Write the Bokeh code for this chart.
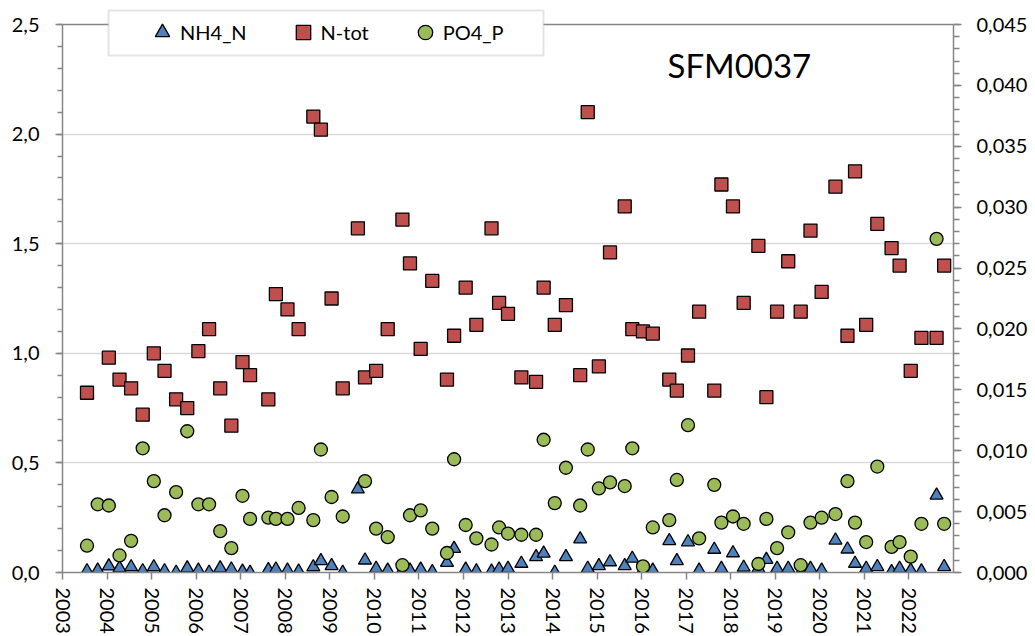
from bokeh.plotting import figure
from bokeh.models import (Range1d, LinearAxis, FixedTicker, CustomJSTickFormatter,
                          Legend, LegendItem, BoxAnnotation, Label, Span)
from bokeh.embed import file_html
from bokeh.resources import INLINE

nan = float("nan")

# Sampling dates (decimal years)
dates = [2003.55, 2003.79, 2004.04, 2004.28, 2004.54, 2004.80, 2005.05, 2005.29,
         2005.55, 2005.80, 2006.05, 2006.29, 2006.54, 2006.79, 2007.04, 2007.21,
         2007.62, 2007.79, 2008.05, 2008.30, 2008.63, 2008.80, 2009.04, 2009.29,
         2009.63, 2009.79, 2010.04, 2010.30, 2010.63, 2010.80, 2011.04, 2011.30,
         2011.63, 2011.79, 2012.05, 2012.29, 2012.63, 2012.80, 2013.00, 2013.30,
         2013.63, 2013.80, 2014.05, 2014.30, 2014.62, 2014.79, 2015.04, 2015.29,
         2015.62, 2015.79, 2016.03, 2016.25, 2016.62, 2016.79, 2017.04, 2017.29,
         2017.63, 2017.79, 2018.05, 2018.29, 2018.62, 2018.80, 2019.04, 2019.29,
         2019.57, 2019.79, 2020.04, 2020.35, 2020.62, 2020.79, 2021.04, 2021.29,
         2021.61, 2021.79, 2022.04, 2022.28, 2022.62, 2022.79]

# NH4_N (left axis)
nh4_n = [0.007, 0.010, 0.029, 0.020, 0.025, 0.007, 0.025, 0.007,
         0.000, 0.020, 0.010, 0.000, 0.020, 0.015, 0.005, 0.000,
         0.012, 0.015, 0.010, 0.005, 0.025, 0.053, 0.030, 0.000,
         0.380, 0.056, 0.018, 0.010, 0.010, 0.010, 0.014, 0.003,
         0.045, 0.109, 0.014, 0.006, 0.005, 0.015, 0.018, 0.041,
         0.071, 0.087, 0.000, 0.071, 0.152, 0.018, 0.030, 0.048,
         0.030, 0.064, 0.010, 0.010, 0.144, 0.053, 0.139, 0.010,
         0.105, 0.018, 0.089, 0.023, 0.018, 0.059, 0.018, 0.018,
         0.000, 0.018, 0.010, 0.147, 0.106, 0.041, 0.018, 0.026,
         0.003, 0.018, 0.010, 0.006, 0.352, 0.026]

# N-tot (left axis)
n_tot = [0.82, nan, 0.98, 0.88, 0.84, 0.72, 1.00, 0.92,
         0.79, 0.75, 1.01, 1.11, 0.84, 0.67, 0.96, 0.90,
         0.79, 1.27, 1.20, 1.11, 2.08, 2.02, 1.25, 0.84,
         1.57, 0.89, 0.92, 1.11, 1.61, 1.41, 1.02, 1.33,
         0.88, 1.08, 1.30, 1.13, 1.57, 1.23, 1.18, 0.89,
         0.87, 1.30, 1.13, 1.22, 0.90, 2.10, 0.94, 1.46,
         1.67, 1.11, 1.10, 1.09, 0.88, 0.83, 0.99, 1.19,
         0.83, 1.77, 1.67, 1.23, 1.49, 0.80, 1.19, 1.42,
         1.19, 1.56, 1.28, 1.76, 1.08, 1.83, 1.13, 1.59,
         1.48, 1.40, 0.92, 1.07, 1.07, 1.40]

# PO4_P (right axis)
po4_p = [0.0022, 0.0056, 0.0055, 0.0014, 0.0026, 0.0102, 0.0075, 0.0047,
         0.0066, 0.0116, 0.0056, 0.0056, 0.0034, 0.0020, 0.0063, 0.0044,
         0.0045, 0.0044, 0.0044, 0.0053, 0.0043, 0.0101, 0.0062, 0.0046,
         nan, 0.0075, 0.0036, 0.0029, 0.0006, 0.0047, 0.0051, 0.0036,
         0.0016, 0.0093, 0.0039, 0.0028, 0.0023, 0.0037, 0.0032, 0.0031,
         0.0031, 0.0109, 0.0057, 0.0086, 0.0055, 0.0101, 0.0069, 0.0074,
         0.0071, 0.0102, 0.0005, 0.0037, 0.0043, 0.0076, 0.0121, 0.0028,
         0.0072, 0.0041, 0.0046, 0.0040, 0.0007, 0.0044, 0.0020, 0.0033,
         0.0006, 0.0041, 0.0045, 0.0048, 0.0075, 0.0041, 0.0025, 0.0087,
         0.0021, 0.0025, 0.0013, 0.0040, 0.0274, 0.0040]

year_ticks = list(range(2003, 2023))
left_ticks = [0.0, 0.5, 1.0, 1.5, 2.0, 2.5]
grid_levels = [0.5, 1.0, 1.5, 2.0]
right_ticks = [0.0, 0.005, 0.010, 0.015, 0.020, 0.025, 0.030, 0.035, 0.040, 0.045]
LEFT_MAX = 2.5
RIGHT_MAX = 0.045

FONT = "Lato"
AXIS_GREY = "#868686"
GRID_GREY = "#d9d9d9"

# a little head room above the axis maxima leaves space for the legend box;
# the scale is 548 px per full axis span
PX = 548.0
above = 16.0
y_left = Range1d(0, LEFT_MAX * (1 + above / PX))
y_right = Range1d(0, RIGHT_MAX * (1 + above / PX))

p = figure(width=1035, height=636, output_backend="svg", toolbar_location=None,
           x_range=Range1d(2003, 2023), y_range=y_left,
           min_border_left=62, min_border_right=82, min_border_top=8,
           min_border_bottom=64)
p.extra_y_ranges = {"po4": y_right}
p.background_fill_color = "white"
p.border_fill_color = "white"
p.outline_line_color = None

p.xgrid.visible = False
p.ygrid.ticker = FixedTicker(ticks=grid_levels)
p.ygrid.grid_line_color = GRID_GREY
p.ygrid.grid_line_width = 1.5

def style_axis(ax):
    ax.axis_line_color = AXIS_GREY
    ax.axis_line_width = 1.5
    ax.major_tick_line_color = AXIS_GREY
    ax.minor_tick_line_color = AXIS_GREY
    ax.major_tick_line_width = 1.5
    ax.minor_tick_line_width = 1.5
    ax.major_tick_in = 0
    ax.minor_tick_in = 0
    ax.major_tick_out = 7
    ax.minor_tick_out = 5
    ax.major_label_text_font = FONT
    ax.major_label_text_font_size = "20px"
    ax.major_label_text_color = "black"

# bottom axis: years
xa = p.xaxis[0]
xa.ticker = FixedTicker(ticks=year_ticks)
xa.major_label_orientation = "vertical"
style_axis(xa)
xa.major_label_standoff = 8

# left axis
ya = p.yaxis[0]
ya.ticker = FixedTicker(ticks=left_ticks,
                        minor_ticks=[round(i * 0.1, 1) for i in range(26)])
ya.formatter = CustomJSTickFormatter(code="return tick.toFixed(1).replace('.', ',');")
ya.bounds = (0, LEFT_MAX)
style_axis(ya)
ya.major_label_standoff = 16

# right axis for PO4_P
ra = LinearAxis(y_range_name="po4")
ra.ticker = FixedTicker(ticks=right_ticks,
                        minor_ticks=[round(i * 0.001, 3) for i in range(46)])
ra.formatter = CustomJSTickFormatter(code="return tick.toFixed(3).replace('.', ',');")
ra.bounds = (0, RIGHT_MAX)
style_axis(ra)
ra.major_tick_out = 8
ra.minor_tick_out = 6
ra.major_label_standoff = 15
p.add_layout(ra, "right")

# top edge of the plot area
p.add_layout(Span(location=LEFT_MAX, dimension="width",
                  line_color=AXIS_GREY, line_width=1.5))

r_nh4 = p.scatter(dates, nh4_n, marker="triangle", size=13,
                  fill_color="#4f81bd", line_color="black", line_width=1.3)
r_ntot = p.scatter(dates, n_tot, marker="square", size=13,
                   fill_color="#c0504d", line_color="black", line_width=1.3)
r_po4 = p.scatter(dates, po4_p, marker="circle", size=13, y_range_name="po4",
                  fill_color="#9bbb59", line_color="black", line_width=1.3)

# legend frame (screen offsets from the plot area's lower-left corner)
box = BoxAnnotation(left=46, right=481, bottom=517, top=562,
                    left_units="screen", right_units="screen",
                    bottom_units="screen", top_units="screen",
                    fill_color="white", fill_alpha=1.0,
                    line_color="#a6a6a6", line_width=2)
p.add_layout(box)

legend = Legend(items=[LegendItem(label="NH4_N", renderers=[r_nh4]),
                       LegendItem(label="N-tot", renderers=[r_ntot]),
                       LegendItem(label="PO4_P", renderers=[r_po4])],
                location=(82, 522), orientation="horizontal",
                glyph_width=36, glyph_height=36, label_standoff=0,
                spacing=38, padding=0, margin=0,
                border_line_color=None, background_fill_alpha=0,
                label_text_font=FONT, label_text_font_size="20px",
                label_text_color="black")
p.add_layout(legend)

title = Label(x=605, y=508, x_units="screen", y_units="screen", text="SFM0037",
              text_font=FONT, text_font_size="33px", text_color="black",
              text_baseline="alphabetic")
p.add_layout(title)

open("out.html", "w").write(file_html(p, INLINE))
